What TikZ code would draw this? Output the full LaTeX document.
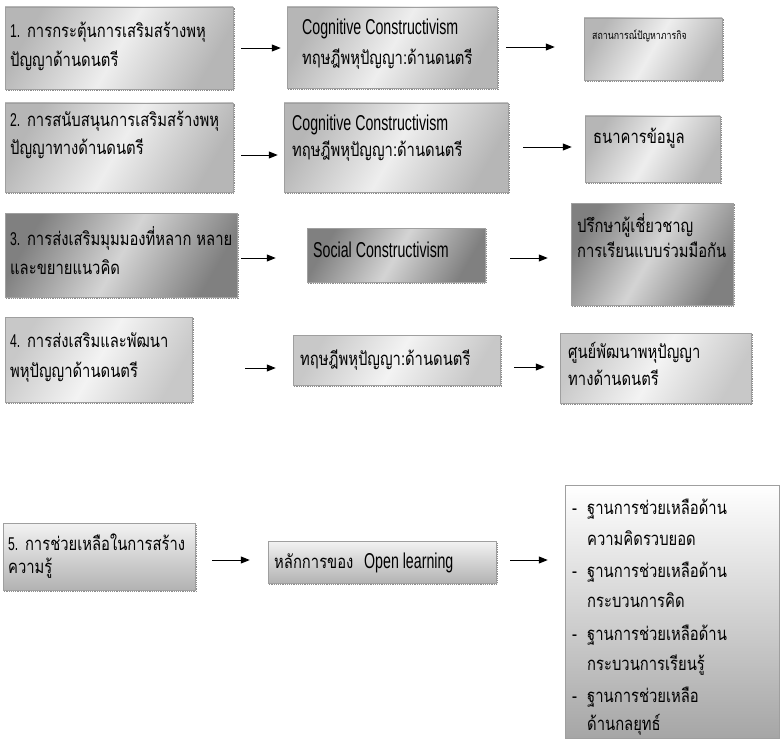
\documentclass[tikz,border=0pt]{standalone}
\usepackage{fontspec}
\usetikzlibrary{arrows.meta,shadings}
\newfontfamily\thai[Script=Thai,FakeStretch=0.8]{Loma}
\newfontfamily\narrow[FakeStretch=0.66]{Liberation Sans}
\definecolor{edgeL}{HTML}{B6B6B6}
\definecolor{midL}{HTML}{EEEEEE}
\definecolor{edgeD}{HTML}{808080}
\definecolor{midD}{HTML}{D4D4D4}
\definecolor{edgeM}{HTML}{C8C8C8}
\definecolor{midM}{HTML}{F3F3F3}
\tikzset{
  boxbase/.style={draw=gray!75, line width=0.5pt, inner sep=0pt},
  silver/.style={boxbase, left color=edgeL, right color=edgeL, middle color=midL, shading angle=60},
  darkbox/.style={boxbase, left color=edgeD, right color=edgeD, middle color=midD, shading angle=60},
  lightbox/.style={boxbase, left color=edgeM, right color=edgeM, middle color=midM, shading angle=60},
  vertbox/.style={boxbase, top color=#1, bottom color=black!30},
  shadowline/.style={draw=gray!90, densely dotted, line width=1.2pt},
  txt/.style={inner sep=0pt, anchor=base west, font=\thai\fontsize{18.5}{20}\selectfont},
  lat/.style={inner sep=0pt, anchor=base west, font=\narrow\fontsize{21.5}{24}\selectfont},
  arr/.style={line width=0.9pt, -{Triangle[length=9pt,width=7pt]}}
}
\begin{document}
\begin{tikzpicture}[x=1pt,y=-1pt]
\useasboundingbox (0,0) rectangle (781,741);
% row 1
\node[silver, minimum width=228pt, minimum height=82pt] (a1) at (119,48) {};
\node[silver, minimum width=210pt, minimum height=81pt] (b1) at (392,47.5) {};
\node[silver, minimum width=138pt, minimum height=62pt] (c1) at (653,49) {};
% row 2
\node[silver, minimum width=228pt, minimum height=89pt] (a2) at (119,147.5) {};
\node[silver, minimum width=224pt, minimum height=89pt] (b2) at (396,147.5) {};
\node[silver, minimum width=135pt, minimum height=66pt] (c2) at (652.5,149) {};
% row 3
\node[darkbox, minimum width=232pt, minimum height=84pt] (a3) at (121,255) {};
\node[darkbox, minimum width=178pt, minimum height=54pt] (b3) at (396,255) {};
\node[darkbox, minimum width=162pt, minimum height=102pt] (c3) at (652,254) {};
% row 4
\node[lightbox, minimum width=187pt, minimum height=85pt] (a4) at (98.5,359.5) {};
\node[lightbox, minimum width=207pt, minimum height=50pt] (b4) at (396.5,360) {};
\node[lightbox, minimum width=191pt, minimum height=70pt] (c4) at (655.5,368) {};
% row 5
\node[vertbox=black!5, minimum width=192pt, minimum height=67pt] (a5) at (99,556.5) {};
\node[vertbox=black!5, minimum width=228pt, minimum height=42pt] (b5) at (382,562) {};
\node[boxbase, top color=white, bottom color=black!35, minimum width=214pt, minimum height=253pt] (c5) at (672,611.5) {};

\foreach \n in {a1,b1,c1,a2,b2,c2,a3,b3,c3,a4,b4,c4,a5,b5}
  \draw[shadowline] ([xshift=1.5pt,yshift=-1pt]\n.south west) -- ([xshift=1pt,yshift=-1pt]\n.south east) -- ([xshift=1pt,yshift=-1pt]\n.north east);

% texts
\node[txt] (ta1a) at (10,38) {{\narrow 1.} การกระตุ้นการเสริมสร้างพหุ};
\node[txt] (ta1b) at (10,67) {ปัญญาด้านดนตรี};
\node[lat] (tb1a) at (302,35) {Cognitive Constructivism};
\node[txt] (tb1b) at (302,65) {ทฤษฎีพหุปัญญา:ด้านดนตรี};
\node[txt, font=\thai\fontsize{11}{12}\selectfont] (tc1) at (592,40) {สถานการณ์ปัญหาภารกิจ};

\node[txt] (ta2a) at (10,126) {{\narrow 2.} การสนับสนุนการเสริมสร้างพหุ};
\node[txt] (ta2b) at (10,154) {ปัญญาทางด้านดนตรี};
\node[lat] (tb2a) at (292,130) {Cognitive Constructivism};
\node[txt] (tb2b) at (292,157) {ทฤษฎีพหุปัญญา:ด้านดนตรี};
\node[txt] (tc2) at (593,143) {ธนาคารข้อมูล};

\node[txt] (ta3a) at (10,245) {{\narrow 3.} การส่งเสริมมุมมองที่หลาก หลาย};
\node[txt] (ta3b) at (10,274) {และขยายแนวคิด};
\node[lat] (tb3) at (313,257) {Social Constructivism};
\node[txt] (tc3a) at (577,232) {ปรึกษาผู้เชี่ยวชาญ};
\node[txt] (tc3b) at (577,257) {การเรียนแบบร่วมมือกัน};

\node[txt] (ta4a) at (10,347) {{\narrow 4.} การส่งเสริมและพัฒนา};
\node[txt] (ta4b) at (10,377) {พหุปัญญาด้านดนตรี};
\node[txt] (tb4) at (300,365) {ทฤษฎีพหุปัญญา:ด้านดนตรี};
\node[txt] (tc4a) at (568,358) {ศูนย์พัฒนาพหุปัญญา};
\node[txt] (tc4b) at (568,385) {ทางด้านดนตรี};

\node[txt] (ta5a) at (8,550) {{\narrow 5.} การช่วยเหลือในการสร้าง};
\node[txt] (ta5b) at (8,573) {ความรู้};
\node[txt] (tb5a) at (274,568) {หลักการของ};
\node[lat] (tb5b) at (364,568) {Open learning};

\node[txt] (d1) at (572,514) {-};
\node[txt] (c5a) at (587,514) {ฐานการช่วยเหลือด้าน};
\node[txt] (c5b) at (587,545) {ความคิดรวบยอด};
\node[txt] (d2) at (572,577) {-};
\node[txt] (c5c) at (587,577) {ฐานการช่วยเหลือด้าน};
\node[txt] (c5d) at (587,607) {กระบวนการคิด};
\node[txt] (d3) at (572,640) {-};
\node[txt] (c5e) at (587,640) {ฐานการช่วยเหลือด้าน};
\node[txt] (c5f) at (587,670) {กระบวนการเรียนรู้};
\node[txt] (d4) at (572,702) {-};
\node[txt] (c5g) at (587,702) {ฐานการช่วยเหลือ};
\node[txt] (c5h) at (587,730) {ด้านกลยุทธ์};

% arrows
\draw[arr, shorten <=8pt, shorten >=6pt] (a1.east) -- (a1.east -| b1.west);
\draw[arr, shorten <=9pt, shorten >=29pt] ([yshift=0.5pt]b1.east) -- ([yshift=0.5pt]b1.east -| c1.west);
\draw[arr, shorten <=8pt, shorten >=6pt] ([yshift=-7.5pt]a2.east) -- ([yshift=-7.5pt]a2.east -| b2.west);
\draw[arr, shorten <=15pt, shorten >=13pt] ([yshift=0.5pt]b2.east) -- ([yshift=0.5pt]b2.east -| c2.west);
\draw[arr, shorten <=4pt, shorten >=31pt] ([yshift=-3pt]a3.east) -- ([yshift=-3pt]a3.east -| b3.west);
\draw[arr, shorten <=25pt, shorten >=23pt] ([yshift=-3pt]b3.east) -- ([yshift=-3pt]b3.east -| c3.west);
\draw[arr, shorten <=53pt, shorten >=17pt] ([yshift=-8.5pt]a4.east) -- ([yshift=-8.5pt]a4.east -| b4.west);
\draw[arr, shorten <=14pt, shorten >=15pt] ([yshift=-7pt]b4.east) -- ([yshift=-7pt]b4.east -| c4.west);
\draw[arr, shorten <=17pt, shorten >=18pt] ([yshift=-3.5pt]a5.east) -- ([yshift=-3.5pt]a5.east -| b5.west);
\draw[arr, shorten <=14pt, shorten >=17pt] ([yshift=2pt]b5.east) -- ([yshift=2pt]b5.east -| c5.west);
\end{tikzpicture}
\end{document}
